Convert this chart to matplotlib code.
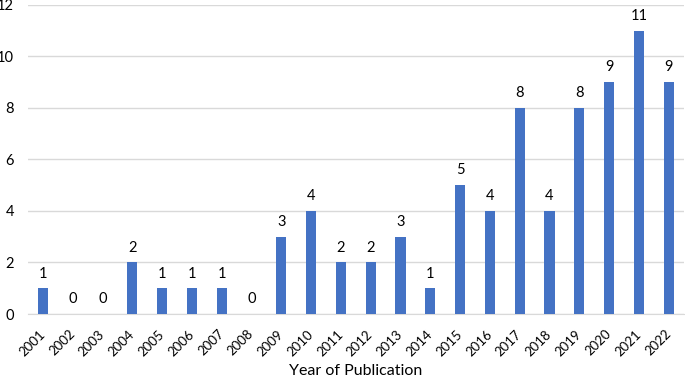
import matplotlib.pyplot as plt

plt.rcParams['font.family'] = ['Lato', 'DejaVu Sans']

years = [str(y) for y in range(2001, 2023)]
counts = [1, 0, 0, 2, 1, 1, 1, 0, 3, 4, 2, 2, 3, 1, 5, 4, 8, 4, 8, 9, 11, 9]

fig = plt.figure(figsize=(6.85, 3.79), dpi=100)
ax = fig.add_axes([0.041, 0.1715, 0.957, 0.8155])

x = range(len(years))
bars = ax.bar(x, counts, width=0.34, color='#4472C4', zorder=3)

for xi, c in zip(x, counts):
    ax.text(xi, c + 0.3, str(c), ha='center', va='bottom', fontsize=10.5, color='#000000')

ax.set_xlim(-0.5, len(years) - 0.5)
ax.set_ylim(0, 12)
ax.set_yticks(range(0, 13, 2))
ax.set_xticks(list(x))
ax.set_xticklabels(years, rotation=45, ha='right', va='center',
                   rotation_mode='anchor', fontsize=9.5)
ax.tick_params(axis='y', labelsize=10.5, length=0, pad=10)
ax.tick_params(axis='x', length=0, pad=13)

ax.grid(axis='y', color='#D9D9D9', linewidth=1, zorder=0)
for s in ['top', 'right', 'left']:
    ax.spines[s].set_visible(False)
ax.spines['bottom'].set_color('#D9D9D9')

ax.set_xlabel('Year of Publication', fontsize=11.5, va='center')
ax.xaxis.set_label_coords(0.5, -0.186)

fig.savefig('out.png', dpi=100)
